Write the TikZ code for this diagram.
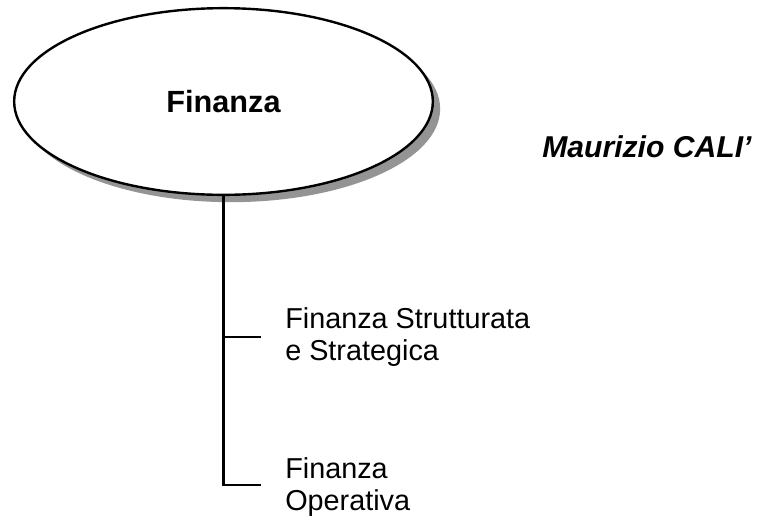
\documentclass[tikz,border=0pt]{standalone}
\usepackage{fontspec}
\setmainfont{Liberation Sans}
\usetikzlibrary{shapes.geometric,shadows}

\begin{document}
\begin{tikzpicture}[x=0.75pt,y=-0.75pt,
    radice/.style={ellipse, draw, line width=1.8pt, fill=white,
        minimum width=314pt, minimum height=140pt, inner sep=0pt,
        font=\fontsize{23}{27}\selectfont\bfseries,
        drop shadow={shadow xshift=5.5pt, shadow yshift=-5.5pt, fill=black!42, opacity=1}},
    voce/.style={anchor=base west, align=left, inner sep=0pt,
        font=\fontsize{21.6}{24}\selectfont},
    ramo/.style={line width=1.8pt}]
\useasboundingbox (0,0) rectangle (771,519);

% Root
\node[radice] (fin) at (223.5,101.5) {Finanza};

% Author
\node[anchor=base west, inner sep=0pt,
    font=\fontsize{22.6}{27}\selectfont\bfseries\itshape] (autore) at (542,157) {Maurizio CALI'};

% Branches
\coordinate (r1) at (261,337);
\coordinate (r2) at (261,485);
\draw[ramo] (fin.south) |- (r2);
\draw[ramo] (r1 -| fin.south) -- (r1);

\node[voce] (strut) at (285,360) {Finanza Strutturata\\e Strategica};
\node[voce] (oper) at (285,510) {Finanza\\Operativa};

\end{tikzpicture}
\end{document}
